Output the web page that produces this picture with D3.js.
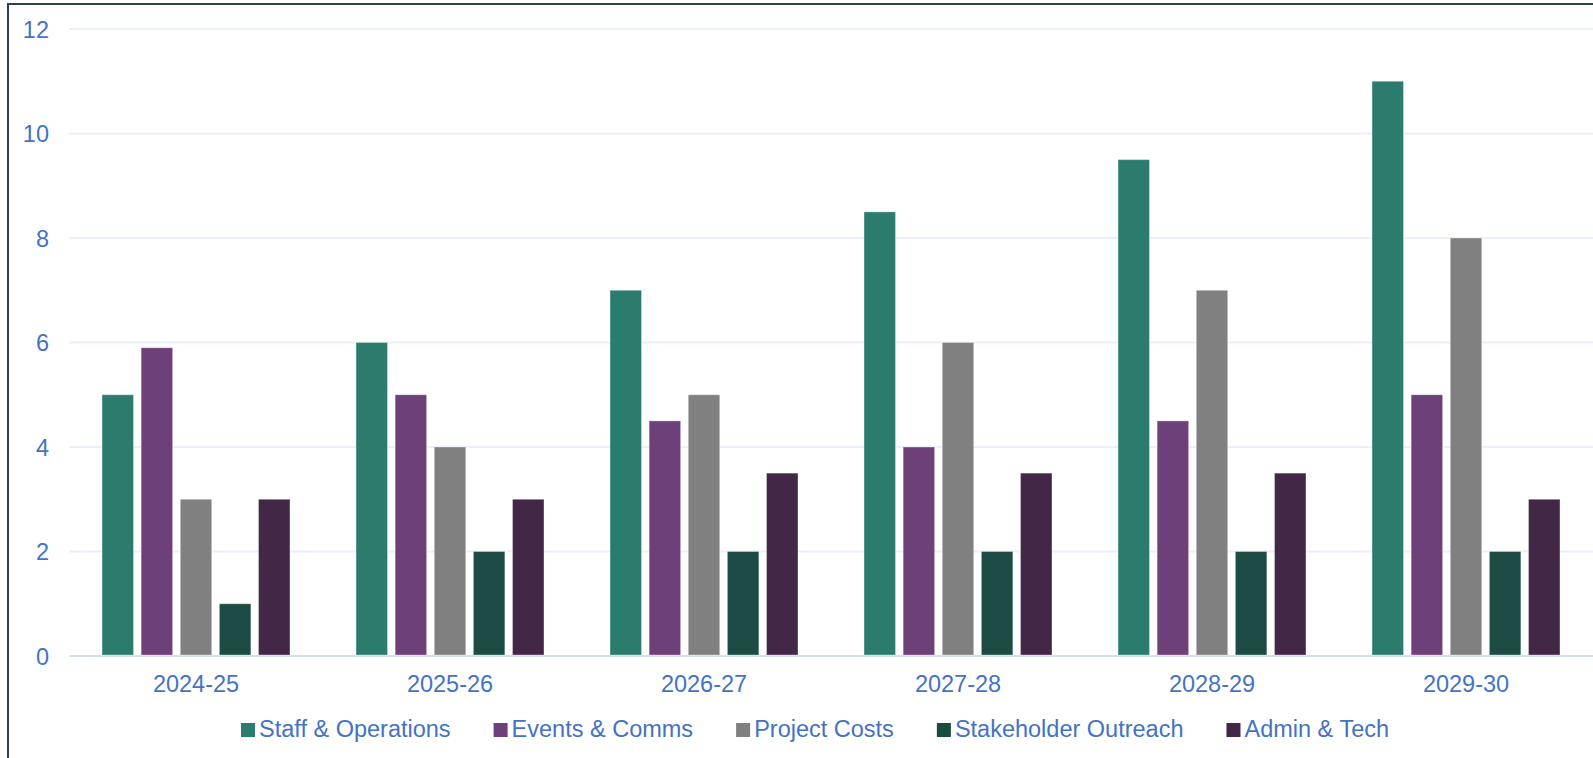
<!DOCTYPE html>
<html>
<head>
<meta charset="utf-8">
<script src="https://cdn.jsdelivr.net/npm/d3@7"></script>
<style>
  html, body { margin: 0; padding: 0; background: #fff; }
  svg { display: block; }
  text { font-family: "Liberation Sans", Arial, sans-serif; fill: #4472c4; }
</style>
</head>
<body>
<div id="chart"></div>
<script>

const years = ['2024-25', '2025-26', '2026-27', '2027-28', '2028-29', '2029-30'];
const seriesNames = ['Staff & Operations', 'Events & Comms', 'Project Costs', 'Stakeholder Outreach', 'Admin & Tech'];
const seriesColors = ['#2b7c6c', '#6e4079', '#808080', '#1b4b43', '#432747'];

const staffOps = [5, 6, 7, 8.5, 9.5, 11];
const eventsComms = [5.9, 5, 4.5, 4, 4.5, 5];
const projectCosts = [3, 4, 5, 6, 7, 8];
const stakeholderOutreach = [1, 2, 2, 2, 2, 2];
const adminTech = [3, 3, 3.5, 3.5, 3.5, 3];

const yTicks = [0, 2, 4, 6, 8, 10, 12];

const width = 1593;
const height = 758;

const plot = { left: 69, right: 1593, top: 29, bottom: 656 };

const values = [staffOps, eventsComms, projectCosts, stakeholderOutreach, adminTech];

const svg = d3.select('#chart')
  .append('svg')
  .attr('width', width)
  .attr('height', height);

const x0 = d3.scaleBand()
  .domain(years)
  .range([plot.left, plot.right])
  .paddingInner(0.26)
  .paddingOuter(0.13);

const x1 = d3.scaleBand()
  .domain(d3.range(seriesNames.length))
  .range([0, x0.bandwidth()])
  .paddingInner(0.195)
  .paddingOuter(0);

const y = d3.scaleLinear()
  .domain([0, 12])
  .range([plot.bottom, plot.top]);

// grid lines
svg.append('g')
  .selectAll('line')
  .data(yTicks)
  .enter()
  .append('line')
  .attr('x1', plot.left)
  .attr('x2', width)
  .attr('y1', function(d) { return y(d); })
  .attr('y2', function(d) { return y(d); })
  .attr('stroke', function(d) { return d === 0 ? '#d3dff2' : '#e9f0f9'; })
  .attr('stroke-width', 2);

const yAxis = d3.axisLeft(y)
  .tickValues(yTicks)
  .tickSize(0)
  .tickPadding(0);

svg.append('g')
  .attr('transform', 'translate(49,0)')
  .call(yAxis)
  .call(function(g) { g.select('.domain').remove(); })
  .selectAll('text')
  .attr('dy', '0.36em')
  .style('font-size', '23.5px')
  .style('font-family', '"Liberation Sans", Arial, sans-serif')
  .attr('fill', '#4472c4');

const xAxis = d3.axisBottom(x0)
  .tickSize(0)
  .tickPadding(0);

svg.append('g')
  .attr('transform', 'translate(0,' + plot.bottom + ')')
  .call(xAxis)
  .call(function(g) { g.select('.domain').remove(); })
  .selectAll('text')
  .attr('y', 36)
  .attr('dy', 0)
  .style('font-size', '23.5px')
  .style('font-family', '"Liberation Sans", Arial, sans-serif')
  .attr('fill', '#4472c4');

// bars
const groups = svg.append('g')
  .selectAll('g')
  .data(years)
  .enter()
  .append('g')
  .attr('transform', function(d) { return 'translate(' + x0(d) + ',0)'; });

groups.selectAll('rect')
  .data(function(d, i) {
    return values.map(function(s, j) { return { series: j, value: s[i] }; });
  })
  .enter()
  .append('rect')
  .attr('x', function(d) { return x1(d.series); })
  .attr('width', x1.bandwidth())
  .attr('y', function(d) { return y(d.value); })
  .attr('height', function(d) { return y(0) - y(d.value) - 1; })
  .attr('fill', function(d) { return seriesColors[d.series]; })
  .attr('stroke', 'rgba(255,255,255,0.35)')
  .attr('stroke-width', 1);

// legend
const legend = svg.append('g');

const items = legend.selectAll('g')
  .data(seriesNames)
  .enter()
  .append('g');

items.append('rect')
  .attr('width', 14)
  .attr('height', 14)
  .attr('y', -14)
  .attr('fill', function(d, i) { return seriesColors[i]; });

items.append('text')
  .attr('x', 18)
  .attr('y', 0)
  .style('font-size', '23.5px')
  .text(String);

const gap = 43;
let offset = 0;
items.each(function() {
  const w = 18 + d3.select(this).select('text').node().getComputedTextLength();
  d3.select(this).attr('transform', 'translate(' + offset + ',0)');
  offset += w + gap;
});
offset -= gap;

legend.attr('transform', 'translate(' + Math.round(815 - offset / 2) + ',737)');

// frame
svg.append('rect')
  .attr('x', 8)
  .attr('y', 4)
  .attr('width', width + 20)
  .attr('height', height + 20)
  .attr('fill', 'none')
  .attr('stroke', '#2f3e5a')
  .attr('stroke-width', 2);

</script>
</body>
</html>
